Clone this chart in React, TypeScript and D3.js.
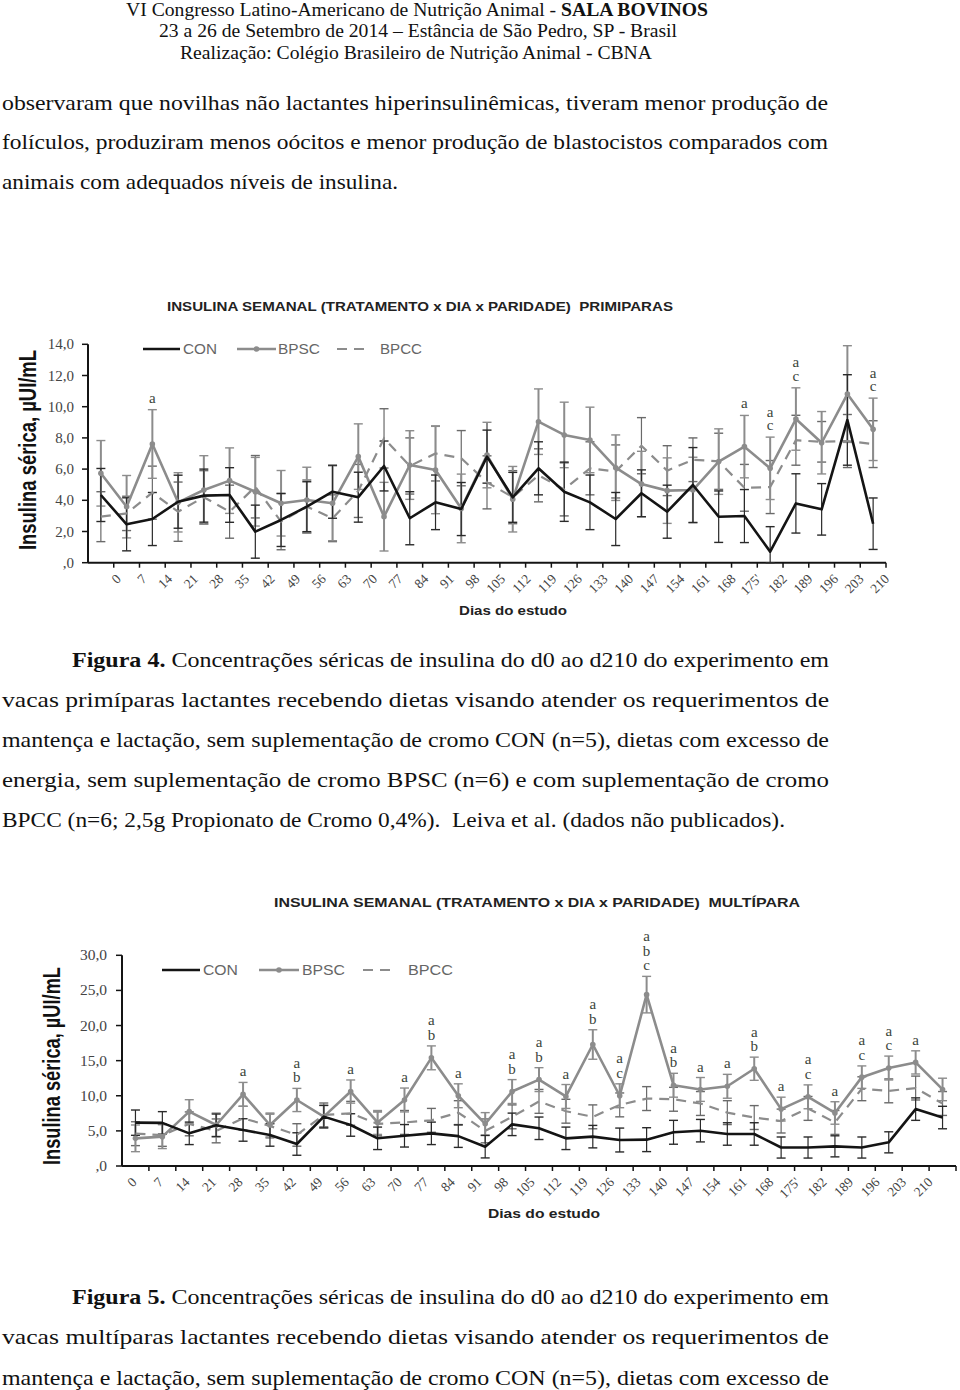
import * as d3 from "d3";

// x categories (dias do estudo)
const DAYS = ["0", "7", "14", "21", "28", "35", "42", "49", "56", "63", "70", "77", "84", "91", "98", "105", "112", "119", "126", "133", "140", "147", "154", "161", "168", "175'", "182", "189", "196", "203", "210"];

// Figura 4 - primíparas, insulina µUI/mL (média e erro)
const PRIM_CON = [4.34, 2.46, 2.8, 3.91, 4.3, 4.34, 1.99, 2.74, 3.59, 4.55, 4.2, 6.2, 2.85, 3.87, 3.44, 6.8, 4.19, 6.05, 4.55, 3.87, 2.8, 4.45, 3.27, 4.98, 2.95, 2.99, 0.71, 3.8, 3.42, 9.15, 2.5];
const PRIM_CON_SE = [1.7, 1.7, 1.7, 1.7, 1.7, 1.75, 1.7, 1.7, 1.6, 1.7, 1.6, 1.6, 1.7, 1.75, 1.7, 1.7, 1.6, 1.7, 1.9, 1.75, 1.7, 1.5, 1.7, 2.4, 1.65, 1.7, 1.6, 1.9, 1.65, 2.9, 1.65];
const PRIM_BPSC = [5.73, 3.59, 7.61, 3.87, 4.66, 5.26, 4.55, 3.81, 4.02, 3.81, 6.8, 2.95, 6.26, 5.94, 3.48, 6.9, 4.07, 9.04, 8.19, 7.87, 6.09, 5.04, 4.62, 4.66, 6.48, 7.44, 6.05, 9.21, 7.69, 10.81, 8.55];
const PRIM_BPSC_SE = [2.1, 2.0, 2.2, 1.9, 2.2, 2.1, 2.2, 2.1, 2.1, 2.4, 2.1, 2.2, 2.2, 2.8, 2.2, 2.1, 2.1, 2.1, 2.1, 2.1, 2.1, 2.1, 2.1, 2.1, 2.1, 2.0, 2.0, 2.0, 2.0, 3.1, 2.0];
const PRIM_BPCC = [2.95, 3.16, 4.49, 3.27, 4.2, 3.27, 4.87, 2.63, 3.6, 2.85, 4.6, 7.97, 6.2, 7.0, 6.7, 5.15, 4.2, 5.6, 4.7, 6.05, 5.85, 7.5, 5.9, 6.6, 6.5, 4.8, 4.85, 7.85, 7.75, 7.8, 7.6];
const PRIM_BPCC_SE = [1.6, 1.1, 1.7, 1.9, 1.7, 1.7, 2.0, 1.8, 1.7, 1.5, 1.7, 1.9, 1.8, 1.76, 1.77, 1.7, 1.7, 1.7, 1.7, 1.7, 1.7, 1.8, 1.6, 1.4, 1.8, 1.5, 1.7, 1.6, 1.3, 1.7, 1.5];
const PRIM_LETTERS = ["", "", "a", "", "", "", "", "", "", "", "", "", "", "", "", "", "", "", "", "", "", "", "", "", "", "a", "ac", "ac", "", "", "ac"];
const PRIM_Y_TICKS = [0, 2, 4, 6, 8, 10, 12, 14];

// Figura 5 - multíparas
const MULT_CON = [6.17, 6.14, 4.65, 5.8, 5.13, 4.42, 3.13, 7.03, 5.84, 3.94, 4.3, 4.65, 4.25, 2.75, 5.93, 5.37, 3.94, 4.18, 3.7, 3.75, 4.8, 5.03, 4.56, 4.56, 2.63, 2.63, 2.8, 2.63, 3.37, 8.1, 6.9];
const MULT_CON_SE = [1.8, 1.6, 1.6, 1.6, 1.6, 1.6, 1.6, 1.6, 1.6, 1.6, 1.6, 1.6, 1.6, 1.6, 1.6, 1.6, 1.6, 1.6, 1.7, 1.7, 1.7, 1.6, 1.6, 1.6, 1.5, 1.5, 1.5, 1.5, 1.5, 1.6, 1.6];
const MULT_BPSC = [3.94, 4.18, 7.74, 5.84, 10.2, 5.84, 9.4, 7.03, 10.6, 6.2, 9.4, 15.4, 10.0, 6.0, 10.6, 12.3, 9.9, 17.3, 10.0, 24.4, 11.5, 10.9, 11.35, 13.85, 8.1, 9.85, 7.55, 12.65, 13.95, 14.75, 10.9];
const MULT_BPSC_SE = [1.9, 1.7, 1.7, 1.7, 1.7, 1.7, 1.65, 1.6, 1.65, 1.7, 1.7, 1.7, 1.7, 1.6, 1.7, 1.7, 1.7, 2.1, 1.7, 2.6, 1.7, 1.7, 1.7, 1.65, 1.7, 1.7, 1.6, 1.6, 1.7, 1.65, 1.6];
const MULT_BPCC = [4.6, 4.4, 6.0, 5.0, 6.8, 5.7, 4.42, 7.27, 7.5, 6.0, 6.2, 6.5, 7.6, 5.0, 7.0, 9.2, 7.8, 7.0, 8.7, 9.6, 9.5, 8.9, 7.6, 6.9, 6.4, 8.2, 6.2, 11.0, 10.7, 11.1, 8.9];
const MULT_BPCC_SE = [1.7, 1.6, 1.7, 1.7, 1.7, 1.7, 1.6, 1.7, 1.7, 1.7, 1.7, 1.7, 1.7, 1.7, 1.7, 1.7, 1.7, 1.7, 1.7, 1.7, 1.7, 1.7, 1.7, 1.7, 1.7, 1.7, 1.7, 1.7, 1.7, 1.7, 1.7];
const MULT_LETTERS = ["", "", "", "", "a", "", "ab", "", "a", "", "a", "ab", "a", "", "ab", "ab", "a", "ab", "ac", "abc", "ab", "a", "a", "ab", "a", "ac", "a", "ac", "ac", "a", ""];
const MULT_Y_TICKS = [0, 5, 10, 15, 20, 25, 30];

const SERIF = "'Liberation Serif', 'Times New Roman', serif";
const SANS = "'Liberation Sans', Arial, sans-serif";
const GREY = "#8c8c8c";
const INK = "#141414";

type Layout = {
  left: number; right: number; top: number; bottom: number;
  yMax: number; yTicks: number[]; tickRight: number; tickSize: number;
  labelFrom: number; labelTo: number; labelDy: number;
  title: string; titleX: number; titleY: number; titleW: number;
  legendY: number; legend: { con: number[]; bpsc: number[]; bpcc: number[] };
  yLabelX: number; yLabelCy: number; yLabelW: number;
  xLabelX: number; xLabelY: number; xLabelW: number;
  letterGap: number; letterStep: number;
};

const PRIM_LAYOUT: Layout = {
  left: 88, right: 886, top: 344.3, bottom: 562.7,
  yMax: 14, yTicks: PRIM_Y_TICKS, tickRight: 74, tickSize: 15,
  labelFrom: 21, labelTo: 17, labelDy: 17,
  title: "INSULINA SEMANAL (TRATAMENTO x DIA x PARIDADE)  PRIMIPARAS", titleX: 167, titleY: 310.5, titleW: 506,
  legendY: 349, legend: { con: [143, 180, 183, 34], bpsc: [237, 276, 278, 42], bpcc: [337, 367, 380, 42] },
  yLabelX: 36, yLabelCy: 450, yLabelW: 200,
  xLabelX: 459, xLabelY: 615, xLabelW: 108,
  letterGap: 7, letterStep: 13.5,
};

const MULT_LAYOUT: Layout = {
  left: 122, right: 956, top: 955.3, bottom: 1166,
  yMax: 30, yTicks: MULT_Y_TICKS, tickRight: 107, tickSize: 15.5,
  labelFrom: 2, labelTo: -9, labelDy: 17,
  title: "INSULINA SEMANAL (TRATAMENTO x DIA x PARIDADE)  MULTÍPARA", titleX: 274, titleY: 907, titleW: 526,
  legendY: 970, legend: { con: [162, 200, 203, 35], bpsc: [259, 299, 302, 43], bpcc: [363, 395, 408, 45] },
  yLabelX: 60, yLabelCy: 1066, yLabelW: 198,
  xLabelX: 488, xLabelY: 1218, xLabelW: 112,
  letterGap: 6, letterStep: 14.5,
};

function ErrorBars({ mean, se, cx, y, color, width }: { mean: number[]; se: number[]; cx: (i: number) => number; y: d3.ScaleLinear<number, number>; color: string; width: number }) {
  return (
    <g stroke={color} strokeWidth={width}>
      {mean.map((m, i) => {
        const top = y(m + se[i]);
        const bottom = y(Math.max(0, m - se[i]));
        const x0 = cx(i);
        return (
          <g key={i}>
            <line x1={x0} x2={x0} y1={top} y2={bottom} />
            <line x1={x0 - 4.5} x2={x0 + 4.5} y1={top} y2={top} strokeWidth={1.4} />
            <line x1={x0 - 4.5} x2={x0 + 4.5} y1={bottom} y2={bottom} strokeWidth={1.4} />
          </g>
        );
      })}
    </g>
  );
}

type ChartProps = {
  layout: Layout;
  con: number[]; conSe: number[];
  bpsc: number[]; bpscSe: number[];
  bpcc: number[]; bpccSe: number[];
  letters: string[];
};

function InsulinChart({ layout: L, con, conSe, bpsc, bpscSe, bpcc, bpccSe, letters }: ChartProps) {
  const idx = d3.range(DAYS.length);
  const x = d3.scaleBand<number>().domain(idx).range([L.left, L.right]);
  const cx = (i: number) => (x(i) ?? 0) + x.bandwidth() / 2;
  const y = d3.scaleLinear().domain([0, L.yMax]).range([L.bottom, L.top]);
  const lx = d3.scalePoint<string>().domain(DAYS).range([cx(0) + L.labelFrom, cx(DAYS.length - 1) + L.labelTo]);
  const line = d3.line<number>().x((_, i) => cx(i)).y((v) => y(v));
  const fmt = (v: number) => (v === 0 ? ",0" : v.toFixed(1).replace(".", ","));
  const lg = L.legend;

  return (
    <g>
      <text x={L.titleX} y={L.titleY} fontFamily={SANS} fontWeight="bold" fontSize={13} fill="#222" textLength={L.titleW} lengthAdjust="spacingAndGlyphs" style={{ whiteSpace: "pre" }}>
        {L.title}
      </text>

      {/* axes */}
      <line x1={L.left} x2={L.left} y1={y(L.yMax)} y2={L.bottom} stroke={INK} strokeWidth={2} />
      <line x1={L.left} x2={L.right} y1={L.bottom} y2={L.bottom} stroke={INK} strokeWidth={2} />
      {L.yTicks.map((t) => (
        <g key={t}>
          <line x1={L.left - 6} x2={L.left} y1={y(t)} y2={y(t)} stroke={INK} strokeWidth={1.5} />
          <text x={L.tickRight} y={y(t) + 5} textAnchor="end" fontFamily={SERIF} fontSize={L.tickSize} fill="#444">
            {fmt(t)}
          </text>
        </g>
      ))}
      {idx.map((i) => (
        <line key={i} x1={(x(i) ?? 0) + x.bandwidth()} x2={(x(i) ?? 0) + x.bandwidth()} y1={L.bottom} y2={L.bottom + 5} stroke={INK} strokeWidth={1.5} />
      ))}
      {DAYS.map((d) => (
        <text key={d} transform={`translate(${lx(d)} ${L.bottom + L.labelDy}) rotate(-45)`} textAnchor="end" fontFamily={SERIF} fontSize={13.5} fill="#444">
          {d}
        </text>
      ))}

      {/* error bars */}
      <ErrorBars mean={bpcc} se={bpccSe} cx={cx} y={y} color="#6a6a6a" width={1.2} />
      <ErrorBars mean={bpsc} se={bpscSe} cx={cx} y={y} color={GREY} width={2} />
      <ErrorBars mean={con} se={conSe} cx={cx} y={y} color="#2a2a2a" width={1.2} />

      {/* series */}
      <path d={line(bpcc) ?? undefined} fill="none" stroke={GREY} strokeWidth={2.2} strokeDasharray="10 7" />
      <path d={line(bpsc) ?? undefined} fill="none" stroke={GREY} strokeWidth={2.6} strokeLinejoin="round" />
      {bpsc.map((v, i) => (
        <circle key={i} cx={cx(i)} cy={y(v)} r={2.8} fill={GREY} />
      ))}
      <path d={line(con) ?? undefined} fill="none" stroke={INK} strokeWidth={2.6} strokeLinejoin="round" />

      {/* significance letters */}
      {letters.map((s, i) => {
        if (!s) return null;
        const capTop = y(bpsc[i] + bpscSe[i]);
        const chars = s.split("");
        return chars.map((ch, j) => (
          <text key={`${i}-${j}`} x={cx(i)} y={capTop - L.letterGap - (chars.length - 1 - j) * L.letterStep} textAnchor="middle" fontFamily={SERIF} fontSize={15} fill="#3b453b">
            {ch}
          </text>
        ));
      })}

      {/* legend */}
      <line x1={lg.con[0]} x2={lg.con[1]} y1={L.legendY} y2={L.legendY} stroke={INK} strokeWidth={2.6} />
      <text x={lg.con[2]} y={L.legendY + 5} fontFamily={SANS} fontSize={14} fill="#666" textLength={lg.con[3]} lengthAdjust="spacingAndGlyphs">CON</text>
      <line x1={lg.bpsc[0]} x2={lg.bpsc[1]} y1={L.legendY} y2={L.legendY} stroke={GREY} strokeWidth={2.6} />
      <circle cx={(lg.bpsc[0] + lg.bpsc[1]) / 2} cy={L.legendY} r={2.8} fill={GREY} />
      <text x={lg.bpsc[2]} y={L.legendY + 5} fontFamily={SANS} fontSize={14} fill="#666" textLength={lg.bpsc[3]} lengthAdjust="spacingAndGlyphs">BPSC</text>
      <line x1={lg.bpcc[0]} x2={lg.bpcc[1]} y1={L.legendY} y2={L.legendY} stroke={GREY} strokeWidth={2.2} strokeDasharray="10 7" />
      <text x={lg.bpcc[2]} y={L.legendY + 5} fontFamily={SANS} fontSize={14} fill="#666" textLength={lg.bpcc[3]} lengthAdjust="spacingAndGlyphs">BPCC</text>

      {/* axis titles */}
      <text transform={`translate(${L.yLabelX} ${L.yLabelCy + L.yLabelW / 2}) rotate(-90)`} x={0} y={0} fontFamily={SANS} fontWeight="bold" fontSize={24} fill="#111" textLength={L.yLabelW} lengthAdjust="spacingAndGlyphs">
        Insulina sérica, µUI/mL
      </text>
      <text x={L.xLabelX} y={L.xLabelY} fontFamily={SANS} fontWeight="bold" fontSize={13} fill="#222" textLength={L.xLabelW} lengthAdjust="spacingAndGlyphs">
        Dias do estudo
      </text>
    </g>
  );
}

function Line({ x, y, w, size = 22, children }: { x: number; y: number; w: number; size?: number; children: React.ReactNode }) {
  return (
    <text x={x} y={y} fontFamily={SERIF} fontSize={size} fill="#111" textLength={w} lengthAdjust="spacingAndGlyphs" style={{ whiteSpace: "pre" }}>
      {children}
    </text>
  );
}

export default function App() {
  return (
    <svg width={960} height={1390} viewBox="0 0 960 1390" style={{ position: "absolute", left: 0, top: 0, background: "#fff" }}>
      <rect x={0} y={0} width={960} height={1390} fill="#fff" />

      <Line x={126} y={16} w={582} size={18.5}>
        VI Congresso Latino-Americano de Nutrição Animal - <tspan fontWeight="bold">SALA BOVINOS</tspan>
      </Line>
      <Line x={159} y={37} w={518} size={18.5}>23 a 26 de Setembro de 2014 – Estância de São Pedro, SP - Brasil</Line>
      <Line x={180} y={59} w={472} size={18.5}>Realização: Colégio Brasileiro de Nutrição Animal - CBNA</Line>

      <Line x={2} y={110} w={826}>observaram que novilhas não lactantes hiperinsulinêmicas, tiveram menor produção de</Line>
      <Line x={2} y={149} w={826}>folículos, produziram menos oócitos e menor produção de blastocistos comparados com</Line>
      <Line x={2} y={189} w={396}>animais com adequados níveis de insulina.</Line>

      <InsulinChart layout={PRIM_LAYOUT} con={PRIM_CON} conSe={PRIM_CON_SE} bpsc={PRIM_BPSC} bpscSe={PRIM_BPSC_SE} bpcc={PRIM_BPCC} bpccSe={PRIM_BPCC_SE} letters={PRIM_LETTERS} />

      <Line x={72} y={667} w={757}>
        <tspan fontWeight="bold">Figura 4.</tspan> Concentrações séricas de insulina do d0 ao d210 do experimento em
      </Line>
      <Line x={2} y={707} w={827}>vacas primíparas lactantes recebendo dietas visando atender os requerimentos de</Line>
      <Line x={2} y={747} w={827}>mantença e lactação, sem suplementação de cromo CON (n=5), dietas com excesso de</Line>
      <Line x={2} y={787} w={827}>energia, sem suplementação de cromo BPSC (n=6) e com suplementação de cromo</Line>
      <Line x={2} y={827} w={783}>BPCC (n=6; 2,5g Propionato de Cromo 0,4%).  Leiva et al. (dados não publicados).</Line>

      <InsulinChart layout={MULT_LAYOUT} con={MULT_CON} conSe={MULT_CON_SE} bpsc={MULT_BPSC} bpscSe={MULT_BPSC_SE} bpcc={MULT_BPCC} bpccSe={MULT_BPCC_SE} letters={MULT_LETTERS} />

      <Line x={72} y={1304} w={757}>
        <tspan fontWeight="bold">Figura 5.</tspan> Concentrações séricas de insulina do d0 ao d210 do experimento em
      </Line>
      <Line x={2} y={1344} w={827}>vacas multíparas lactantes recebendo dietas visando atender os requerimentos de</Line>
      <Line x={2} y={1385} w={827}>mantença e lactação, sem suplementação de cromo CON (n=5), dietas com excesso de</Line>
    </svg>
  );
}
